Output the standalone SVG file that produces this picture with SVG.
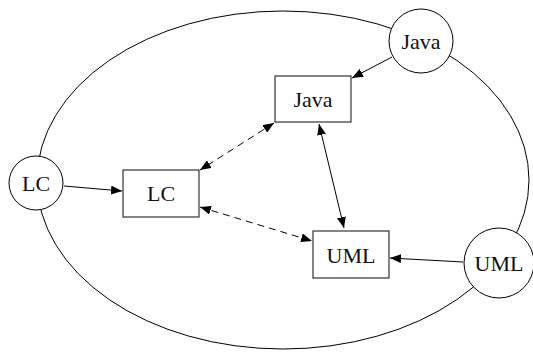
<svg xmlns="http://www.w3.org/2000/svg" width="533" height="354" viewBox="0 0 533 354">
<style>
.bg{fill:#fff}
.ell{fill:none;stroke:#000;stroke-width:1}
.circ{fill:#fff;stroke:#000;stroke-width:1}
.box{fill:#fff;stroke:#333;stroke-width:1.2}
.lbl{font-family:"Liberation Serif","Times New Roman",serif;font-size:22px;fill:#111;text-anchor:middle;dominant-baseline:central}
.edge{fill:none;stroke:#000;stroke-width:1}
.dash{stroke-dasharray:7,5}
</style>
<defs>
<marker id="ah" viewBox="0 0 11 9" refX="11" refY="4.5" markerWidth="11" markerHeight="9" markerUnits="userSpaceOnUse" orient="auto-start-reverse">
<path d="M0,0 L11,4.5 L0,9 Z" fill="#000"/>
</marker>
</defs>
<rect class="bg" x="0" y="0" width="533" height="354"/>
<g id="outer">
<ellipse class="ell" cx="283" cy="180" rx="246" ry="169"/>
</g>
<g id="edges">
<line class="edge" x1="392" y1="57" x2="352" y2="78" marker-end="url(#ah)"/>
<line class="edge" x1="64" y1="186" x2="122" y2="191" marker-end="url(#ah)"/>
<line class="edge" x1="463" y1="262" x2="390" y2="258" marker-end="url(#ah)"/>
<line class="edge" x1="319" y1="124" x2="344" y2="228" marker-start="url(#ah)" marker-end="url(#ah)"/>
<line class="edge dash" x1="274" y1="123" x2="200" y2="170" marker-start="url(#ah)" marker-end="url(#ah)"/>
<line class="edge dash" x1="200" y1="207" x2="312" y2="241" marker-start="url(#ah)" marker-end="url(#ah)"/>
</g>
<g id="java-circle">
<circle class="circ" cx="421" cy="41" r="32"/>
<text class="lbl" x="421" y="41">Java</text>
</g>
<g id="lc-circle">
<circle class="circ" cx="36" cy="183" r="27"/>
<text class="lbl" x="36" y="183">LC</text>
</g>
<g id="uml-circle">
<circle class="circ" cx="499" cy="263" r="35"/>
<text class="lbl" x="499" y="263">UML</text>
</g>
<g id="java-box">
<rect class="box" x="275" y="76" width="76" height="46"/>
<text class="lbl" x="313" y="99">Java</text>
</g>
<g id="lc-box">
<rect class="box" x="123" y="170" width="76" height="47"/>
<text class="lbl" x="161" y="193">LC</text>
</g>
<g id="uml-box">
<rect class="box" x="313" y="231" width="76" height="47"/>
<text class="lbl" x="351" y="255">UML</text>
</g>
</svg>
